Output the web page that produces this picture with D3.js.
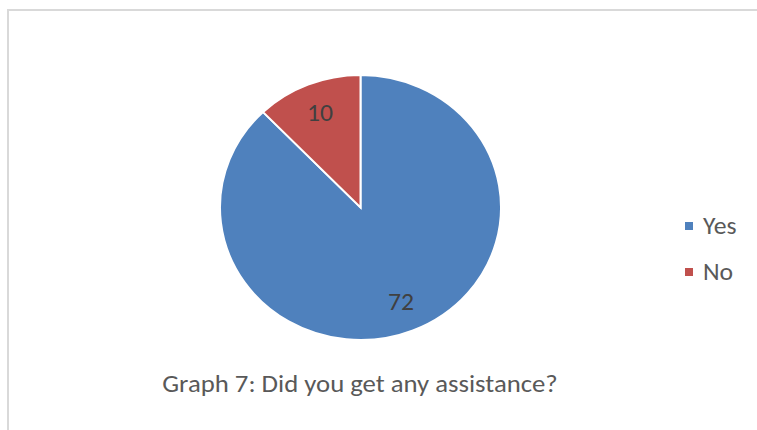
<!DOCTYPE html>
<html>
<head>
<meta charset="utf-8">
<script src="https://cdn.jsdelivr.net/npm/d3@7"></script>
<style>
  html, body { margin: 0; padding: 0; background: #fff; }
  svg { display: block; }
</style>
</head>
<body>
<svg id="chart" width="757" height="430"></svg>
<script>
// Survey answers
const categories = ["Yes", "No"];
const counts = [72, 10];
const colors = ["#4f81bd", "#c0504d"];
const title = "Graph 7: Did you get any assistance?";

const svg = d3.select("#chart");
const font = "Carlito, Calibri, Lato, sans-serif";
const stretch = 1.07; // slight horizontal widening used for every element

// Chart frame
svg.append("path")
  .attr("d", "M8,430 L8,10 L757,10")
  .attr("fill", "none")
  .attr("stroke", "#d9d9d9")
  .attr("stroke-width", 2);

const cx = 360.5, cy = 207.5, r = 140.5, ry = 132.5;

const data = categories.map((c, i) => ({ name: c, value: counts[i] }));
const pie = d3.pie().value(d => d.value).sort(null);
const arc = d3.arc().innerRadius(0).outerRadius(r);
const labelArc = d3.arc().innerRadius(r * 0.77).outerRadius(r * 0.77);
const color = d3.scaleOrdinal().domain(categories).range(colors);
const yScale = ry / r;

const g = svg.append("g").attr("transform", `translate(${cx},${cy})`);
const arcs = pie(data);

g.append("g")
  .attr("transform", `scale(1,${yScale})`)
  .selectAll("path.slice")
  .data(arcs)
  .join("path")
  .attr("class", "slice")
  .attr("d", arc)
  .attr("fill", d => color(d.data.name))
  .attr("stroke", "#fff")
  .attr("stroke-width", 2);

g.selectAll("text.value")
  .data(arcs)
  .join("text")
  .attr("class", "value")
  .attr("transform", d => {
    const [x, y] = labelArc.centroid(d);
    return `translate(${x},${y * yScale}) scale(${stretch},1)`;
  })
  .attr("text-anchor", "middle")
  .attr("dominant-baseline", "central")
  .attr("font-family", font)
  .attr("font-size", 24)
  .attr("fill", "#404040")
  .text(d => d.data.value);

// Legend
const legend = svg.append("g").attr("transform", "translate(685,218)");
const item = legend.selectAll("g")
  .data(categories)
  .join("g")
  .attr("transform", (d, i) => `translate(0,${i * 46})`);
item.append("rect")
  .attr("x", 0).attr("y", 4)
  .attr("width", 8).attr("height", 8)
  .attr("fill", d => color(d));
item.append("text")
  .attr("transform", `translate(18,8) scale(${stretch},1)`)
  .attr("dominant-baseline", "central")
  .attr("font-family", font)
  .attr("font-size", 24)
  .attr("fill", "#595959")
  .text(d => d);

// Caption
svg.append("text")
  .attr("transform", `translate(360,392) scale(${stretch},1)`)
  .attr("text-anchor", "middle")
  .attr("font-family", font)
  .attr("font-size", 25)
  .attr("fill", "#595959")
  .text(title);
</script>
</body>
</html>
